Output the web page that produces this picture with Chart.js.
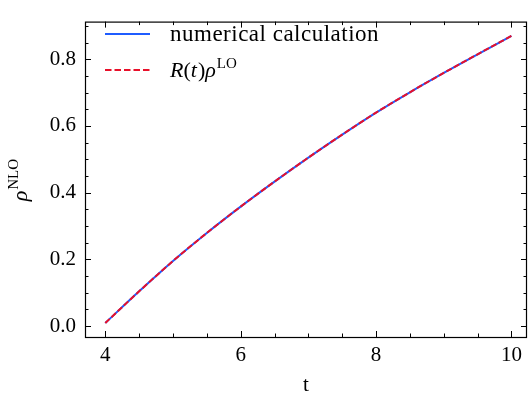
<!DOCTYPE html>
<html>
<head>
<meta charset="utf-8">
<script src="https://cdn.jsdelivr.net/npm/chart.js@4.4.1/dist/chart.umd.min.js"></script>
<style>
  html, body { margin: 0; padding: 0; background: #fff; }
  #wrap { width: 528px; height: 396px; }
</style>
</head>
<body>
<div id="wrap"><canvas id="chart" width="528" height="396"></canvas></div>
<script>
// --- data ---
const tValues   = [4.0, 4.5, 5.0, 5.5, 6.0, 6.5, 7.0, 7.5, 8.0, 8.5, 9.0, 9.5, 10.0];
const numerical = [0.009, 0.104, 0.195, 0.279, 0.358, 0.433, 0.505, 0.574, 0.640, 0.701, 0.759, 0.815, 0.870];
const approxLO  = [0.009, 0.104, 0.195, 0.279, 0.358, 0.433, 0.505, 0.574, 0.640, 0.701, 0.759, 0.815, 0.870];
const xTicks = [4, 6, 8, 10];
const yTicks = [0.0, 0.2, 0.4, 0.6, 0.8];
const xMinorStep = 0.5;
const yMinorStep = 0.05;

const FONT = "'Liberation Serif', 'DejaVu Serif', serif";
const BLUE = '#1f5cff';
const RED = '#e8102a';

// draw text made of pieces (for superscripts)
function drawRich(ctx, parts, x, y) {
    let cx = x;
    parts.forEach(p => {
        ctx.font = p.font;
        ctx.fillText(p.text, cx, y + (p.dy || 0));
        cx += ctx.measureText(p.text).width + (p.gap || 0);
    });
}

// inward ticks on all four sides + frame, axis titles, legend
const decorations = {
    id: 'decorations',
    afterDraw(chart) {
        const { ctx, chartArea: a, scales: { x, y } } = chart;
        ctx.save();
        ctx.strokeStyle = '#000';
        ctx.lineWidth = 1;
        const line = (x1, y1, x2, y2) => { ctx.beginPath(); ctx.moveTo(x1, y1); ctx.lineTo(x2, y2); ctx.stroke(); };

        const xStart = Math.ceil(x.min / xMinorStep), xEnd = Math.floor(x.max / xMinorStep);
        for (let i = xStart; i <= xEnd; i++) {
            const v = i * xMinorStep;
            const major = xTicks.some(t => Math.abs(t - v) < 1e-6);
            const len = major ? 6 : 3.5;
            const px = Math.round(x.getPixelForValue(v)) + 0.5;
            line(px, a.bottom, px, a.bottom - len);
            line(px, a.top, px, a.top + len);
        }
        const yStart = Math.ceil(y.min / yMinorStep), yEnd = Math.floor(y.max / yMinorStep);
        for (let i = yStart; i <= yEnd; i++) {
            const v = i * yMinorStep;
            const major = yTicks.some(t => Math.abs(t - v) < 1e-6);
            const len = major ? 6 : 3.5;
            const py = Math.round(y.getPixelForValue(v)) + 0.5;
            line(a.left, py, a.left + len, py);
            line(a.right, py, a.right - len, py);
        }
        ctx.lineWidth = 1.2;
        ctx.strokeRect(a.left + 0.5, a.top + 0.5, a.right - a.left - 1, a.bottom - a.top);

        // axis titles
        ctx.fillStyle = '#000';
        ctx.textBaseline = 'alphabetic';
        ctx.font = '21px ' + FONT;
        ctx.textAlign = 'center';
        ctx.fillText('t', (a.left + a.right) / 2, 391);

        ctx.save();
        ctx.translate(27, (a.top + a.bottom) / 2 + 22);
        ctx.rotate(-Math.PI / 2);
        ctx.textAlign = 'left';
        drawRich(ctx, [
            { text: 'ρ', font: 'italic 22px ' + FONT, gap: 1 },
            { text: 'NLO', font: '15px ' + FONT, dy: -9 }
        ], 0, 0);
        ctx.restore();

        // legend
        ctx.textAlign = 'left';
        ctx.lineWidth = 2;
        ctx.strokeStyle = BLUE;
        ctx.setLineDash([]);
        line(105, 34, 150, 34);
        ctx.strokeStyle = RED;
        ctx.setLineDash([6.5, 3]);
        line(105, 70, 150, 70);
        ctx.setLineDash([]);

        ctx.font = '23px ' + FONT;
        ctx.letterSpacing = '0.5px';
        ctx.fillText('numerical calculation', 170, 41);
        ctx.letterSpacing = '0px';
        drawRich(ctx, [
            { text: 'R', font: 'italic 22px ' + FONT },
            { text: '(', font: '22px ' + FONT },
            { text: 't', font: 'italic 22px ' + FONT, gap: 1 },
            { text: ')', font: '22px ' + FONT },
            { text: 'ρ', font: 'italic 22px ' + FONT, gap: 1 },
            { text: 'LO', font: '15px ' + FONT, dy: -9 }
        ], 170, 77);
        ctx.restore();
    }
};

const toPoints = (xs, ys) => xs.map((t, i) => ({ x: t, y: ys[i] }));

new Chart(document.getElementById('chart').getContext('2d'), {
    type: 'line',
    data: {
        datasets: [
            { label: 'numerical calculation', data: toPoints(tValues, numerical), borderColor: BLUE, borderWidth: 2,
              pointRadius: 0, cubicInterpolationMode: 'monotone', fill: false, order: 2 },
            { label: 'R(t)ρLO', data: toPoints(tValues, approxLO), borderColor: RED, borderWidth: 2, borderDash: [6, 2.5],
              pointRadius: 0, cubicInterpolationMode: 'monotone', fill: false, order: 1 }
        ]
    },
    options: {
        responsive: false,
        animation: false,
        devicePixelRatio: 1,
        layout: { padding: { top: 5, right: 1, left: 0, bottom: 0 } },
        plugins: { legend: { display: false }, tooltip: { enabled: false } },
        scales: {
            x: {
                type: 'linear', min: 3.7, max: 10.23,
                grid: { display: false, drawTicks: false },
                border: { display: false },
                ticks: { font: { family: FONT, size: 21 }, color: '#000', padding: 6, maxRotation: 0,
                         callback: v => String(v) },
                afterBuildTicks: s => { s.ticks = xTicks.map(v => ({ value: v })); },
                afterFit: s => { s.height = 59; }
            },
            y: {
                type: 'linear', min: -0.033, max: 0.913,
                grid: { display: false, drawTicks: false },
                border: { display: false },
                ticks: { font: { family: FONT, size: 21 }, color: '#000', padding: 9,
                         callback: v => v.toFixed(1) },
                afterBuildTicks: s => { s.ticks = yTicks.map(v => ({ value: v })); },
                afterFit: s => { s.width = 85; }
            }
        }
    },
    plugins: [decorations]
});
</script>
</body>
</html>
